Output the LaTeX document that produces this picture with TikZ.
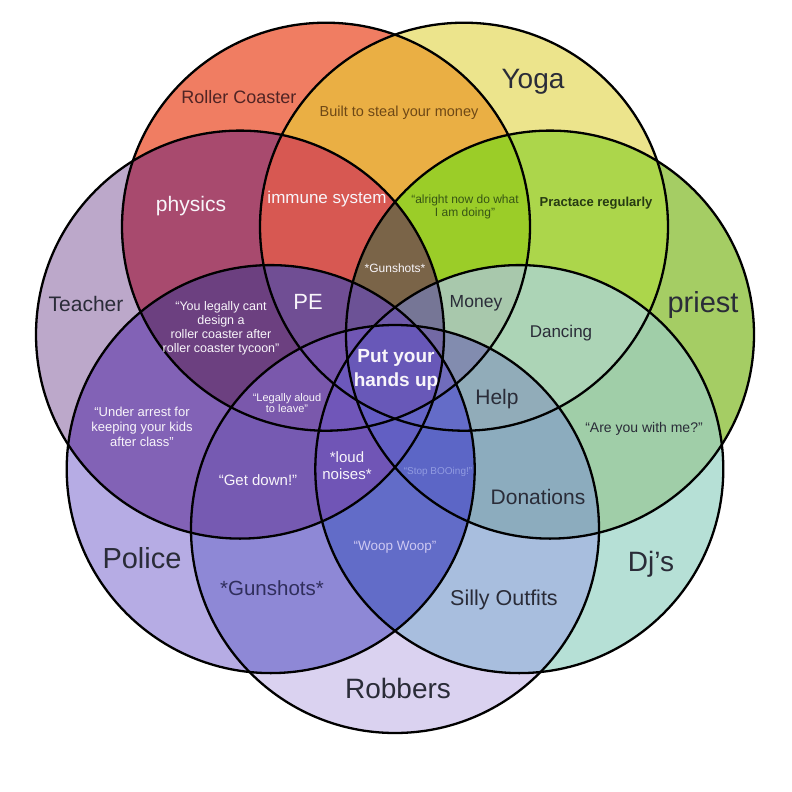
\documentclass[tikz,border=0pt]{standalone}
\usepackage{fontspec}
\setmainfont{Liberation Sans}
\makeatletter
\newcommand\rgn[3]{\begin{scope}\@tfor\rg@i:=#1\do{\clip (c\rg@i) circle[radius=204];}\fill[#3] (c#2) circle[radius=204];\end{scope}}
\makeatother
\newcommand\fs[2]{\fontsize{#1}{#2}\selectfont}
% single
\definecolor{cAa}{RGB}{240,125,98}
\definecolor{cAb}{RGB}{236,228,140}
\definecolor{cAc}{RGB}{165,205,100}
\definecolor{cAd}{RGB}{182,224,214}
\definecolor{cAe}{RGB}{218,210,240}
\definecolor{cAf}{RGB}{182,172,228}
\definecolor{cAg}{RGB}{188,168,202}
% pairs
\definecolor{cBa}{RGB}{234,175,68}
\definecolor{cBb}{RGB}{172,214,75}
\definecolor{cBc}{RGB}{160,206,168}
\definecolor{cBd}{RGB}{168,190,222}
\definecolor{cBe}{RGB}{142,136,214}
\definecolor{cBf}{RGB}{130,98,182}
\definecolor{cBg}{RGB}{168,74,110}
% triples
\definecolor{cCa}{RGB}{155,205,40}
\definecolor{cCb}{RGB}{172,212,182}
\definecolor{cCc}{RGB}{140,172,190}
\definecolor{cCd}{RGB}{98,108,200}
\definecolor{cCe}{RGB}{118,90,178}
\definecolor{cCf}{RGB}{108,64,128}
\definecolor{cCg}{RGB}{215,88,82}
% quadruples
\definecolor{cDa}{RGB}{168,200,172}
\definecolor{cDb}{RGB}{145,172,185}
\definecolor{cDc}{RGB}{92,102,198}
\definecolor{cDd}{RGB}{112,85,182}
\definecolor{cDe}{RGB}{122,88,172}
\definecolor{cDf}{RGB}{112,78,148}
\definecolor{cDg}{RGB}{122,100,72}
% quintuples
\definecolor{cEa}{RGB}{130,140,175}
\definecolor{cEb}{RGB}{100,108,200}
\definecolor{cEc}{RGB}{98,95,195}
\definecolor{cEd}{RGB}{112,86,185}
\definecolor{cEe}{RGB}{118,85,172}
\definecolor{cEf}{RGB}{108,82,150}
\definecolor{cEg}{RGB}{118,118,150}
% sextuples
\definecolor{cFa}{RGB}{112,108,188}
\definecolor{cFb}{RGB}{100,100,198}
\definecolor{cFc}{RGB}{100,92,195}
\definecolor{cFd}{RGB}{108,88,188}
\definecolor{cFe}{RGB}{112,86,180}
\definecolor{cFf}{RGB}{110,90,168}
\definecolor{cFg}{RGB}{115,105,165}
\definecolor{cGa}{RGB}{104,88,184}
% text colours
\definecolor{dk}{RGB}{42,44,56}
\definecolor{rcText}{RGB}{80,36,36}
\definecolor{builtText}{RGB}{110,72,22}
\definecolor{grText}{RGB}{55,85,20}
\definecolor{prText}{RGB}{38,58,18}
\definecolor{wt}{RGB}{248,245,250}
\definecolor{stopText}{RGB}{145,155,225}
\definecolor{woopText}{RGB}{205,200,242}
\definecolor{gunText}{RGB}{48,46,92}
\begin{document}
\begin{tikzpicture}[x=1pt,y=-1pt,
  lbl/.style={inner sep=0pt, align=center, text=dk},
  ring/.style={draw=black, line width=2.3pt}]
\useasboundingbox (0,0) rectangle (792,792);
\fill[white] (0,0) rectangle (792,792);
\coordinate (c0) at (326.0,226.7);
\coordinate (c1) at (464.0,226.7);
\coordinate (c2) at (550.0,334.6);
\coordinate (c3) at (519.3,469.1);
\coordinate (c4) at (395.0,529.0);
\coordinate (c5) at (270.7,469.1);
\coordinate (c6) at (240.0,334.6);
% single circles
\fill[cAa] (c0) circle[radius=204];
\fill[cAb] (c1) circle[radius=204];
\fill[cAc] (c2) circle[radius=204];
\fill[cAd] (c3) circle[radius=204];
\fill[cAe] (c4) circle[radius=204];
\fill[cAf] (c5) circle[radius=204];
\fill[cAg] (c6) circle[radius=204];
% pairs
\rgn{0}{1}{cBa}\rgn{1}{2}{cBb}\rgn{2}{3}{cBc}\rgn{3}{4}{cBd}
\rgn{4}{5}{cBe}\rgn{5}{6}{cBf}\rgn{6}{0}{cBg}
% triples
\rgn{01}{2}{cCa}\rgn{12}{3}{cCb}\rgn{23}{4}{cCc}\rgn{34}{5}{cCd}
\rgn{45}{6}{cCe}\rgn{56}{0}{cCf}\rgn{60}{1}{cCg}
% quadruples
\rgn{012}{3}{cDa}\rgn{123}{4}{cDb}\rgn{234}{5}{cDc}\rgn{345}{6}{cDd}
\rgn{456}{0}{cDe}\rgn{560}{1}{cDf}\rgn{601}{2}{cDg}
% quintuples
\rgn{0123}{4}{cEa}\rgn{1234}{5}{cEb}\rgn{2345}{6}{cEc}\rgn{3456}{0}{cEd}
\rgn{4560}{1}{cEe}\rgn{5601}{2}{cEf}\rgn{6012}{3}{cEg}
% sextuples
\rgn{01234}{5}{cFa}\rgn{12345}{6}{cFb}\rgn{23456}{0}{cFc}\rgn{34560}{1}{cFd}
\rgn{45601}{2}{cFe}\rgn{56012}{3}{cFf}\rgn{60123}{4}{cFg}
% all seven
\rgn{012345}{6}{cGa}
% outlines
\foreach \i in {0,...,6} \draw[ring] (c\i) circle[radius=204];
% labels
\node[lbl, text=rcText, font=\fs{18}{20}] (tRC) at (239,97) {Roller Coaster};
\node[lbl, font=\fs{28}{30}] (tYoga) at (533,82) {Yoga};
\node[lbl, text=builtText, font=\fs{14.5}{16}] (tBuilt) at (399,113) {Built to steal your money};
\node[lbl, text=wt, font=\fs{21}{23}] (tPhys) at (191,206) {physics};
\node[lbl, text=wt, font=\fs{17}{19}] (tImm) at (327,199) {immune system};
\node[lbl, text=grText, font=\fs{12}{12.5}] (tAlr) at (465,207) {“alright now do what\\I am doing”};
\node[lbl, text=prText, font=\bfseries\fs{13}{15}] (tPrac) at (596,203) {Practace regularly};
\node[lbl, text=wt, font=\fs{12}{14}] (tGunU) at (395,268) {*Gunshots*};
\node[lbl, font=\fs{21}{23}] (tTeach) at (86,304) {Teacher};
\node[lbl, text=wt, font=\fs{22}{24}] (tPE) at (308,302) {PE};
\node[lbl, font=\fs{17.5}{19}] (tMoney) at (476,303) {Money};
\node[lbl, font=\fs{29}{31}] (tPriest) at (703,305) {priest};
\node[lbl, font=\fs{17}{19}] (tDance) at (561,333) {Dancing};
\node[lbl, text=wt, font=\fs{12.5}{14}] (tLegal) at (221,328) {“You legally cant\\design a\\roller coaster after\\roller coaster tycoon”};
\node[lbl, text=wt, font=\bfseries\fs{19}{24}] (tPut) at (396,370) {Put your\\hands up};
\node[lbl, text=wt, font=\fs{11}{11.5}] (tAloud) at (287,403) {“Legally aloud\\to leave”};
\node[lbl, font=\fs{21}{23}] (tHelp) at (497,399) {Help};
\node[lbl, text=wt, font=\fs{13}{15}] (tArrest) at (142,427) {“Under arrest for\\keeping your kids\\after class”};
\node[lbl, font=\fs{14}{16}] (tWith) at (644,429) {“Are you with me?”};
\node[lbl, text=wt, font=\fs{15}{17}] (tLoud) at (347,466) {*loud\\noises*};
\node[lbl, text=stopText, font=\fs{10}{12}] (tStop) at (438,472) {“Stop BOOing!”};
\node[lbl, text=wt, font=\fs{15}{17}] (tDown) at (258,480) {“Get down!”};
\node[lbl, font=\fs{21}{23}] (tDon) at (538,497) {Donations};
\node[lbl, text=woopText, font=\fs{13.5}{15}] (tWoop) at (395,547) {“Woop Woop”};
\node[lbl, font=\fs{29}{31}] (tPolice) at (142,558) {Police};
\node[lbl, font=\fs{28}{30}] (tDj) at (651,564) {Dj’s};
\node[lbl, text=gunText, font=\fs{20.5}{22}] (tGunL) at (272,588) {*Gunshots*};
\node[lbl, font=\fs{21.5}{23}] (tSilly) at (504,600) {Silly Outfits};
\node[lbl, font=\fs{28}{30}] (tRob) at (398,688) {Robbers};
\end{tikzpicture}
\end{document}
